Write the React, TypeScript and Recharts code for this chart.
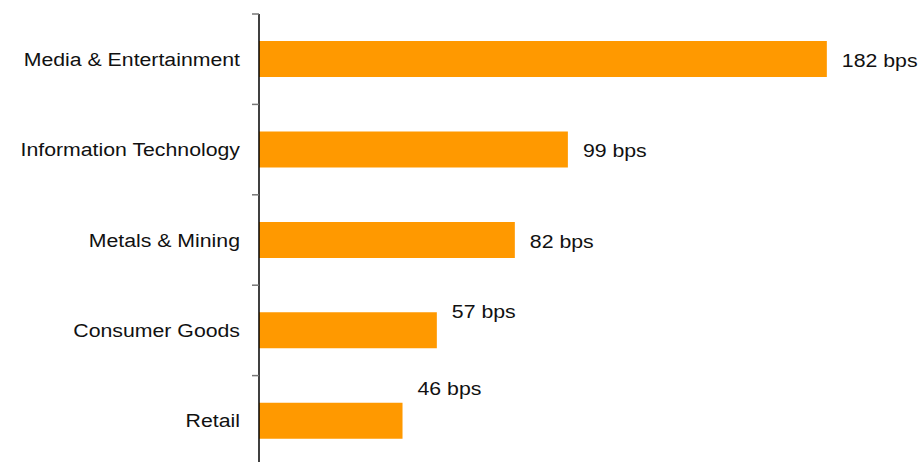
import { Bar, BarChart, LabelList, XAxis, YAxis } from 'recharts'

const sectors = [
  'Media & Entertainment',
  'Information Technology',
  'Metals & Mining',
  'Consumer Goods',
  'Retail',
]
const bps = [182, 99, 82, 57, 46]

const data = sectors.map((name, i) => ({ name, bps: bps[i] }))

// vertical nudge of value labels (the two short bars have theirs lifted)
const labelLift = [1.5, 1, 1, -19, -32]

const W = 923
const H = 470
const MARGIN = { top: 14, right: 40, bottom: 4, left: 8 }
const BAND = (H - MARGIN.top - MARGIN.bottom) / sectors.length
const FONT = '"Liberation Sans", Arial, sans-serif'
const STRETCH = 1.12

function SectorTick(props: any) {
  const { x, y, payload, index } = props
  const axisX = x + 12 + 7
  const top = y - BAND / 2
  return (
    <g>
      <line x1={axisX - 7} x2={axisX} y1={top} y2={top} stroke="#777" strokeWidth={1.5} />
      {index === sectors.length - 1 && (
        <line x1={axisX - 7} x2={axisX} y1={y + BAND / 2} y2={y + BAND / 2} stroke="#777" strokeWidth={1.5} />
      )}
      <text
        transform={`translate(${x},${y}) scale(${STRETCH},1)`}
        textAnchor="end"
        dominantBaseline="central"
        fontSize={19}
        fontFamily={FONT}
        fill="#111"
      >
        {payload.value}
      </text>
    </g>
  )
}

function ValueLabel(props: any) {
  const { x, y, width, height, value, index } = props
  const tx = x + width + 15
  const ty = y + height / 2 + labelLift[index]
  return (
    <text
      transform={`translate(${tx},${ty}) scale(${STRETCH},1)`}
      dominantBaseline="central"
      fontSize={19}
      fontFamily={FONT}
      fill="#111"
    >
      {`${value} bps`}
    </text>
  )
}

export default function App() {
  // pinned to the window corner and clipped, so nothing scrolls
  return (
    <div style={{ position: 'absolute', left: 0, top: 0, width: W, height: 462, overflow: 'hidden' }}>
      <BarChart
        width={W}
        height={H}
        data={data}
        layout="vertical"
        margin={MARGIN}
        barCategoryGap="30%"
      >
        <XAxis type="number" domain={[0, 200]} hide />
        <YAxis
          type="category"
          dataKey="name"
          width={251}
          tickLine={false}
          tickSize={7}
          tickMargin={12}
          axisLine={{ stroke: '#000', strokeWidth: 1.5 }}
          tick={<SectorTick />}
          interval={0}
        />
        <Bar dataKey="bps" fill="#FF9900" isAnimationActive={false}>
          <LabelList dataKey="bps" content={<ValueLabel />} />
        </Bar>
      </BarChart>
    </div>
  )
}
